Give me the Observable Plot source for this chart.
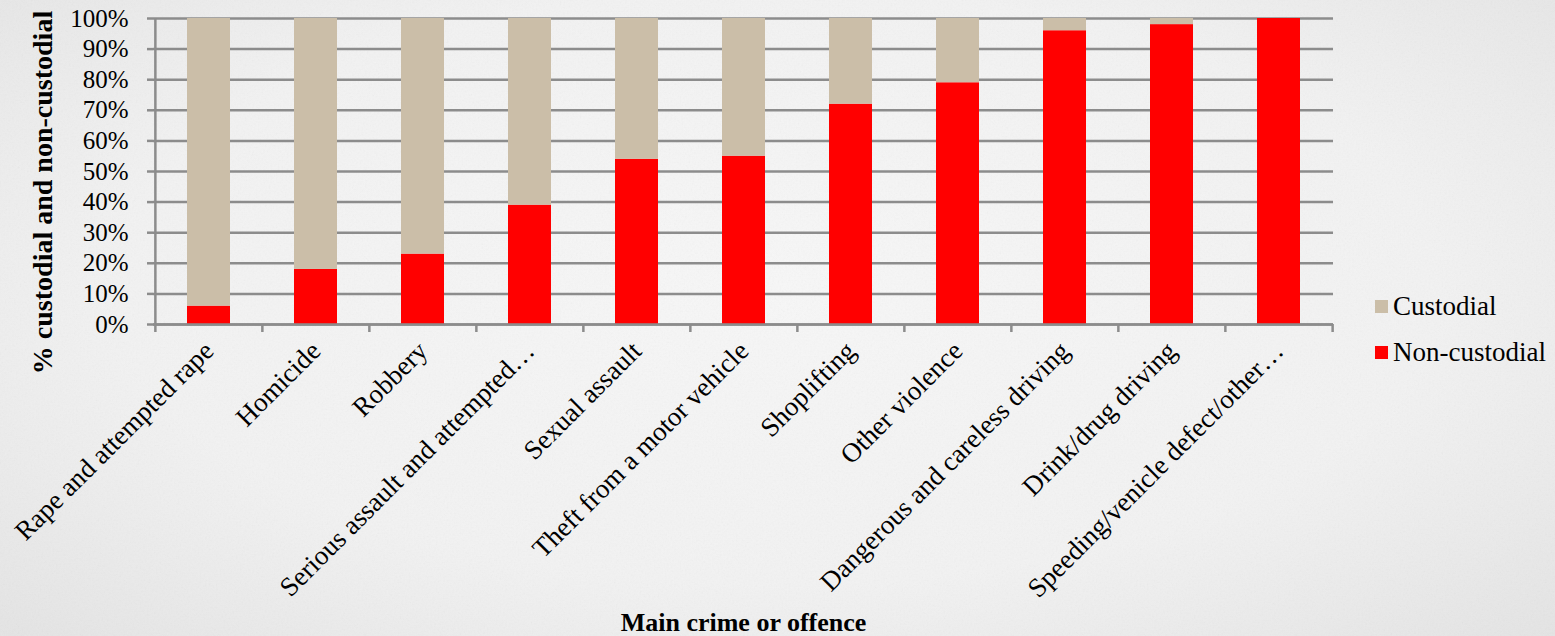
<!DOCTYPE html>
<html>
<head>
<meta charset="utf-8">
<script src="https://cdn.jsdelivr.net/npm/d3@7"></script>
<script src="https://cdn.jsdelivr.net/npm/@observablehq/plot@0.6"></script>
<style>
  html, body { margin: 0; padding: 0; }
  body {
    width: 1555px; height: 636px; overflow: hidden; position: relative;
    background: radial-gradient(ellipse at 50% 45%, #f7f7f7 0%, #f2f2f2 60%, #e4e4e4 100%);
    font-family: "Liberation Serif", "Times New Roman", serif;
  }
  #paper { position: absolute; inset: 0; pointer-events: none; }
  #chart { position: absolute; left: 0; top: 0; }
  #legend { position: absolute; left: 1375px; top: 0; font-size: 27px; color: #000; }
  #legend .item { position: absolute; left: 0; white-space: nowrap; display: flex; align-items: center; }
  #legend .sw { width: 13px; height: 13px; margin-right: 5px; }
</style>
</head>
<body>
<svg id="paper" width="1555" height="636">
  <filter id="grain">
    <feTurbulence type="fractalNoise" baseFrequency="0.55" numOctaves="3" seed="4"/>
    <feColorMatrix type="saturate" values="0"/>
    <feComponentTransfer><feFuncA type="linear" slope="0.08"/></feComponentTransfer>
  </filter>
  <rect width="1555" height="636" filter="url(#grain)"/>
</svg>
<div id="chart"></div>
<div id="legend"></div>
<script>
// Sentencing outcome by main crime or offence (% of sentences)
const categories = [
  "Rape and attempted rape",
  "Homicide",
  "Robbery",
  "Serious assault and attempted…",
  "Sexual assault",
  "Theft from a motor vehicle",
  "Shoplifting",
  "Other violence",
  "Dangerous and careless driving",
  "Drink/drug driving",
  "Speeding/venicle defect/other…"
];
const nonCustodial = [6, 18, 23, 39, 54, 55, 72, 79, 96, 98, 100];
const custodial    = [94, 82, 77, 61, 46, 45, 28, 21, 4, 2, 0];
const seriesNames  = ["Non-custodial", "Custodial"];
const seriesColors = ["#ff0000", "#cbbea8"];
const yTicks = [0, 10, 20, 30, 40, 50, 60, 70, 80, 90, 100];
const yTitle = "% custodial and non-custodial";
const xTitle = "Main crime or offence";

const rows = categories.flatMap((crime, i) => [
  {crime, series: "Non-custodial", value: nonCustodial[i]},
  {crime, series: "Custodial", value: custodial[i]}
]);

const W = 1555, H = 636;
const mL = 153, mR = 222, mT = 18, mB = 312;
const step = (W - mL - mR) / categories.length;
const gridColor = "#8c8c8c";

const chart = Plot.plot({
  width: W, height: H,
  marginLeft: mL, marginRight: mR, marginTop: mT, marginBottom: mB,
  style: {fontFamily: "'Liberation Serif', 'Times New Roman', serif", background: "transparent", color: "#000", overflow: "visible"},
  x: {type: "band", domain: categories, paddingInner: 0.6, paddingOuter: 0.3},
  y: {domain: [0, 100]},
  color: {domain: seriesNames, range: seriesColors},
  marks: [
    Plot.gridY(yTicks, {stroke: gridColor, strokeOpacity: 1, strokeWidth: 2.5}),
    Plot.axisY(yTicks, {tickSize: 6, tickPadding: 19, tickFormat: d => d + "%", stroke: gridColor, strokeWidth: 2.5, fill: "#000", fontSize: 25, label: null}),
    Plot.barY(rows, {x: "crime", y: "value", fill: "series", order: seriesNames}),
    Plot.ruleY([0], {stroke: gridColor, strokeWidth: 2.5}),
    Plot.ruleX([categories[0]], {dx: -step / 2, stroke: gridColor, strokeWidth: 2.5}),
    // tick marks on band boundaries
    Plot.axisX(categories, {tickSize: 8, dx: -step / 2, tickFormat: () => "", stroke: gridColor, strokeWidth: 2.5, label: null}),
    Plot.axisX([categories[categories.length - 1]], {tickSize: 8, dx: step / 2, tickFormat: () => "", stroke: gridColor, strokeWidth: 2.5, label: null}),
    // category labels
    Plot.axisX(categories, {tickSize: 0, tickPadding: 22, tickRotate: -45, fontSize: 27, fill: "#000", label: null}),
    Plot.text([yTitle], {frameAnchor: "left", textAnchor: "middle", dx: -110, dy: 21, rotate: -90, fontSize: 28, fontWeight: "bold", fill: "#000"}),
    Plot.text([xTitle], {frameAnchor: "bottom", dy: 306, fontSize: 26, fontWeight: "bold", fill: "#000"})
  ]
});
document.getElementById("chart").append(chart);

// legend: Custodial listed above Non-custodial
const legend = document.getElementById("legend");
const legendTops = [291, 337];
["Custodial", "Non-custodial"].forEach((name, i) => {
  const item = document.createElement("div");
  item.className = "item";
  item.style.top = legendTops[i] + "px";
  const sw = document.createElement("span");
  sw.className = "sw";
  sw.style.background = seriesColors[seriesNames.indexOf(name)];
  const label = document.createElement("span");
  label.textContent = name;
  item.append(sw, label);
  legend.append(item);
});
</script>
</body>
</html>
